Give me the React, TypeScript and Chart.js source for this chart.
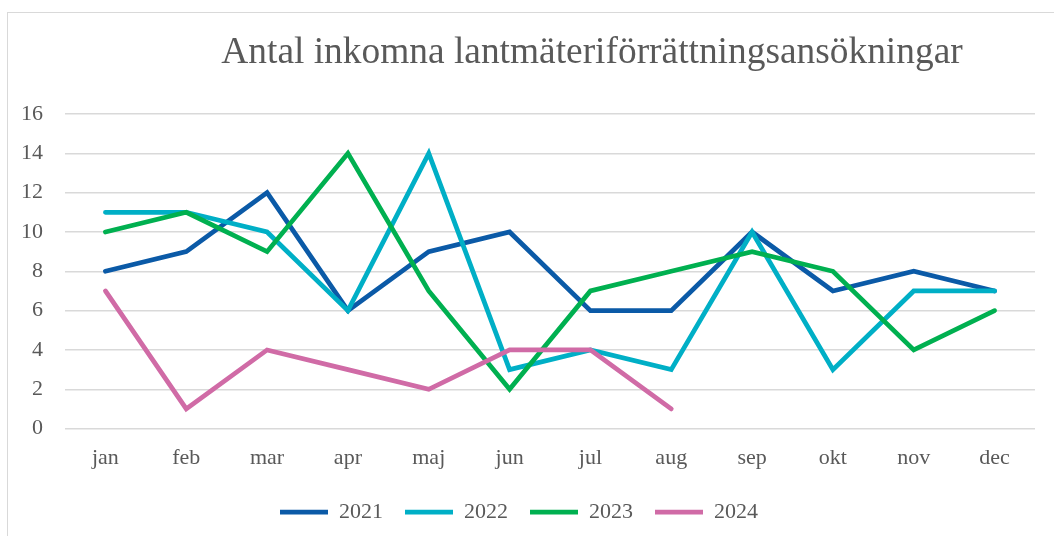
import React, { useEffect, useRef } from "react";
import { Chart, registerables } from "chart.js";

Chart.register(...registerables);

const TITLE = "Antal inkomna lantmäteriförrättningsansökningar";
const MONTHS = ["jan", "feb", "mar", "apr", "maj", "jun", "jul", "aug", "sep", "okt", "nov", "dec"];
const SERIES_LABELS = ["2021", "2022", "2023", "2024"];
const V2021 = [8, 9, 12, 6, 9, 10, 6, 6, 10, 7, 8, 7];
const V2022 = [11, 11, 10, 6, 14, 3, 4, 3, 10, 3, 7, 7];
const V2023 = [10, 11, 9, 14, 7, 2, 7, 8, 9, 8, 4, 6];
const V2024 = [7, 1, 4, 3, 2, 4, 4, 1];
const COLORS = ["#0b5aa7", "#00afc6", "#00b050", "#d06ba6"];
const Y_MIN = 0;
const Y_MAX = 16;
const Y_STEP = 2;

const FONT = "'Liberation Serif', 'Times New Roman', serif";
const TEXT = "#595959";

const titlePlugin = {
  id: "customTitle",
  afterDraw(chart: any) {
    const ctx = chart.ctx;
    ctx.save();
    ctx.font = `37.4px ${FONT}`;
    ctx.fillStyle = TEXT;
    ctx.textAlign = "center";
    ctx.textBaseline = "alphabetic";
    ctx.fillText(TITLE, 592, 63);
    ctx.restore();
  },
};

export default function App() {
  const ref = useRef<HTMLCanvasElement>(null);
  useEffect(() => {
    if (!ref.current) return;
    const values = [V2021, V2022, V2023, V2024];
    const chart = new Chart(ref.current, {
      type: "line",
      data: {
        labels: MONTHS,
        datasets: SERIES_LABELS.map((label, i) => ({
          label,
          data: values[i],
          borderColor: COLORS[i],
          backgroundColor: COLORS[i],
          borderWidth: 4.75,
          borderCapStyle: "round",
          borderJoinStyle: "miter",
          pointRadius: 0,
          pointHoverRadius: 0,
          tension: 0,
          fill: false,
          order: SERIES_LABELS.length - 1 - i,
        })),
      },
      options: {
        animation: false,
        responsive: true,
        maintainAspectRatio: false,
        layout: { padding: { top: 114, left: 3, right: 19, bottom: 3 } },
        plugins: {
          title: { display: false },
          tooltip: { enabled: false },
          legend: {
            display: true,
            position: "bottom",
            labels: {
              usePointStyle: true,
              pointStyle: "line",
              pointStyleWidth: 48,
              color: TEXT,
              font: { family: FONT, size: 22 },
              padding: 22,
              sort: (a: any, b: any) => a.datasetIndex - b.datasetIndex,
            },
          },
        },
        scales: {
          x: {
            offset: true,
            grid: { display: false },
            border: { display: false },
            ticks: { color: TEXT, font: { family: FONT, size: 22 }, padding: 8 },
          },
          y: {
            min: Y_MIN,
            max: Y_MAX,
            border: { display: false },
            grid: { color: "#d9d9d9", lineWidth: 1.5, drawTicks: false },
            ticks: { stepSize: Y_STEP, color: TEXT, font: { family: FONT, size: 22 }, padding: 22 },
            afterFit: (scale: any) => {
              scale.width = 62;
            },
          },
        },
      },
      plugins: [titlePlugin],
    } as any);
    return () => chart.destroy();
  }, []);

  return (
    <div style={{ position: "fixed", left: 0, top: 0, width: 1054, height: 536, background: "#fff", overflow: "hidden" }}>
      <div
        style={{
          position: "absolute",
          left: 7,
          top: 12,
          width: 1100,
          height: 600,
          border: "1px solid #d9d9d9",
          boxSizing: "border-box",
        }}
      />
      <div style={{ position: "absolute", left: 0, top: 0, width: 1054, height: 536 }}>
        <canvas ref={ref} />
      </div>
    </div>
  );
}
